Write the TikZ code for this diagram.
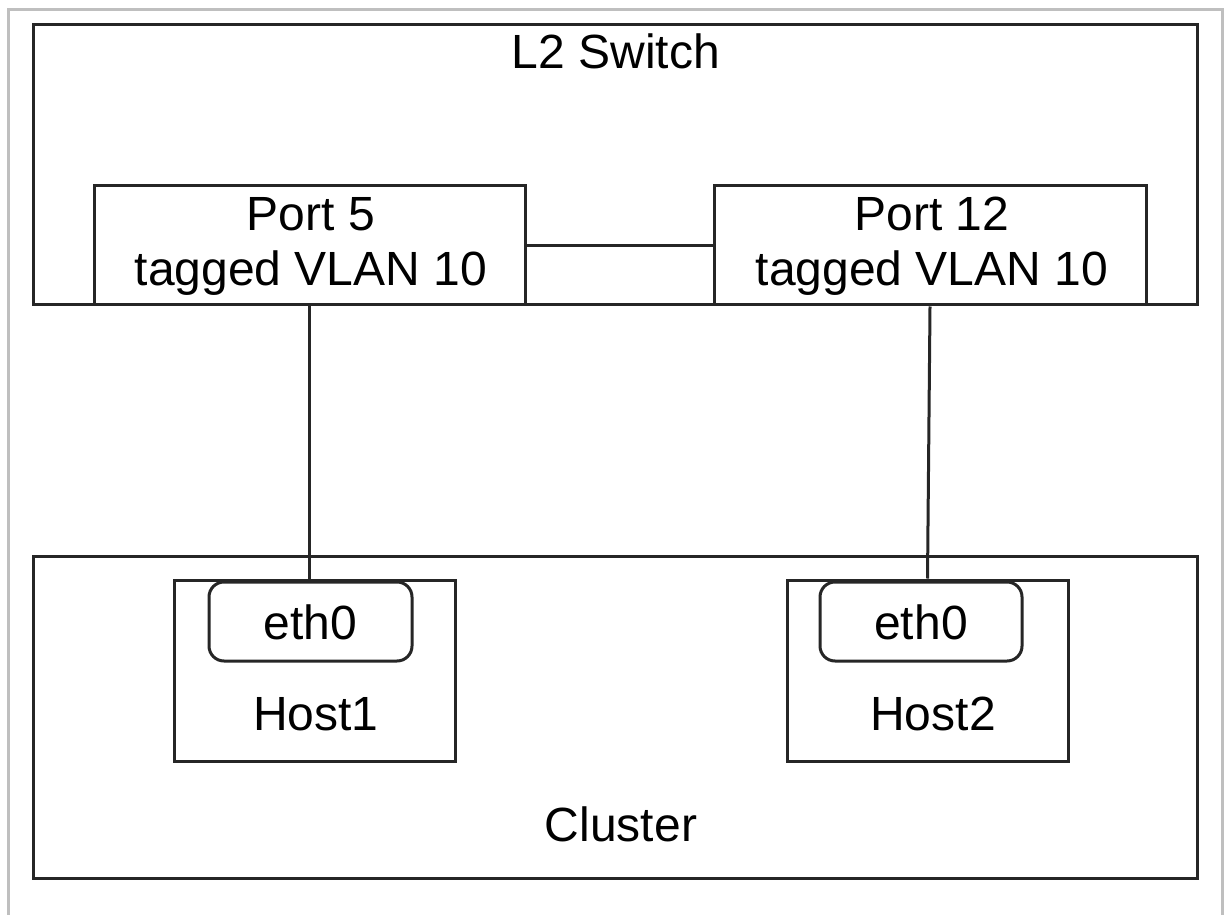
\documentclass[tikz,border=0pt]{standalone}
\usepackage{fontspec}
\setmainfont{Liberation Sans}
\begin{document}
\begin{tikzpicture}[x=0.5pt,y=-0.5pt,
  box/.style={draw=black!85, line width=1.5pt, inner sep=0pt, rectangle},
  ifbox/.style={box, rounded corners=7.5pt},
  lbl/.style={inner sep=0pt, font=\fontsize{24}{27.5}\selectfont, align=center},
  wire/.style={draw=black!85, line width=1.5pt}]
\useasboundingbox (0,0) rectangle (1224,914);
\draw[black!25, line width=1.5pt] (8.5,920) -- (8.5,10) -- (1222,10) -- (1222,920);
% switch
\node[box, minimum width=582pt, minimum height=140pt] (sw) at (615,165) {};
\node[lbl, anchor=base] (swl) at (616,69) {L2 Switch};
\node[box, fill=white, minimum width=215.5pt, minimum height=59.5pt] (p5) at (309.5,245.5) {};
\node[lbl] (p5l) at (311,246) {Port 5\\tagged VLAN 10};
\node[box, fill=white, minimum width=216pt, minimum height=59.5pt] (p12) at (930,245.5) {};
\node[lbl] (p12l) at (932,246) {Port 12\\tagged VLAN 10};
% cluster
\node[box, minimum width=582pt, minimum height=161pt] (cl) at (615,717) {};
\node[lbl, anchor=base] (cll) at (621,841) {Cluster};
\node[box, fill=white, minimum width=140.5pt, minimum height=90.5pt] (h1) at (314.5,670.5) {};
\node[lbl, anchor=base] (h1l) at (316,730) {Host1};
\node[box, fill=white, minimum width=140.5pt, minimum height=90.5pt] (h2) at (927.5,670.5) {};
\node[lbl, anchor=base] (h2l) at (933,730) {Host2};
\node[ifbox, fill=white, minimum width=101.5pt, minimum height=39.5pt] (e1) at (310.5,621.5) {};
\node[lbl] (e1l) at (310.5,622) {eth0};
\node[ifbox, fill=white, minimum width=101pt, minimum height=39.5pt] (e2) at (921,621.5) {};
\node[lbl] (e2l) at (921,622) {eth0};
% connectors
\draw[wire] (p5.east) -- (p12.west);
\draw[wire] (p5.south) -- (p5.south |- h1.north);
\draw[wire] (p12.south) -- (h2.north);
\end{tikzpicture}
\end{document}
